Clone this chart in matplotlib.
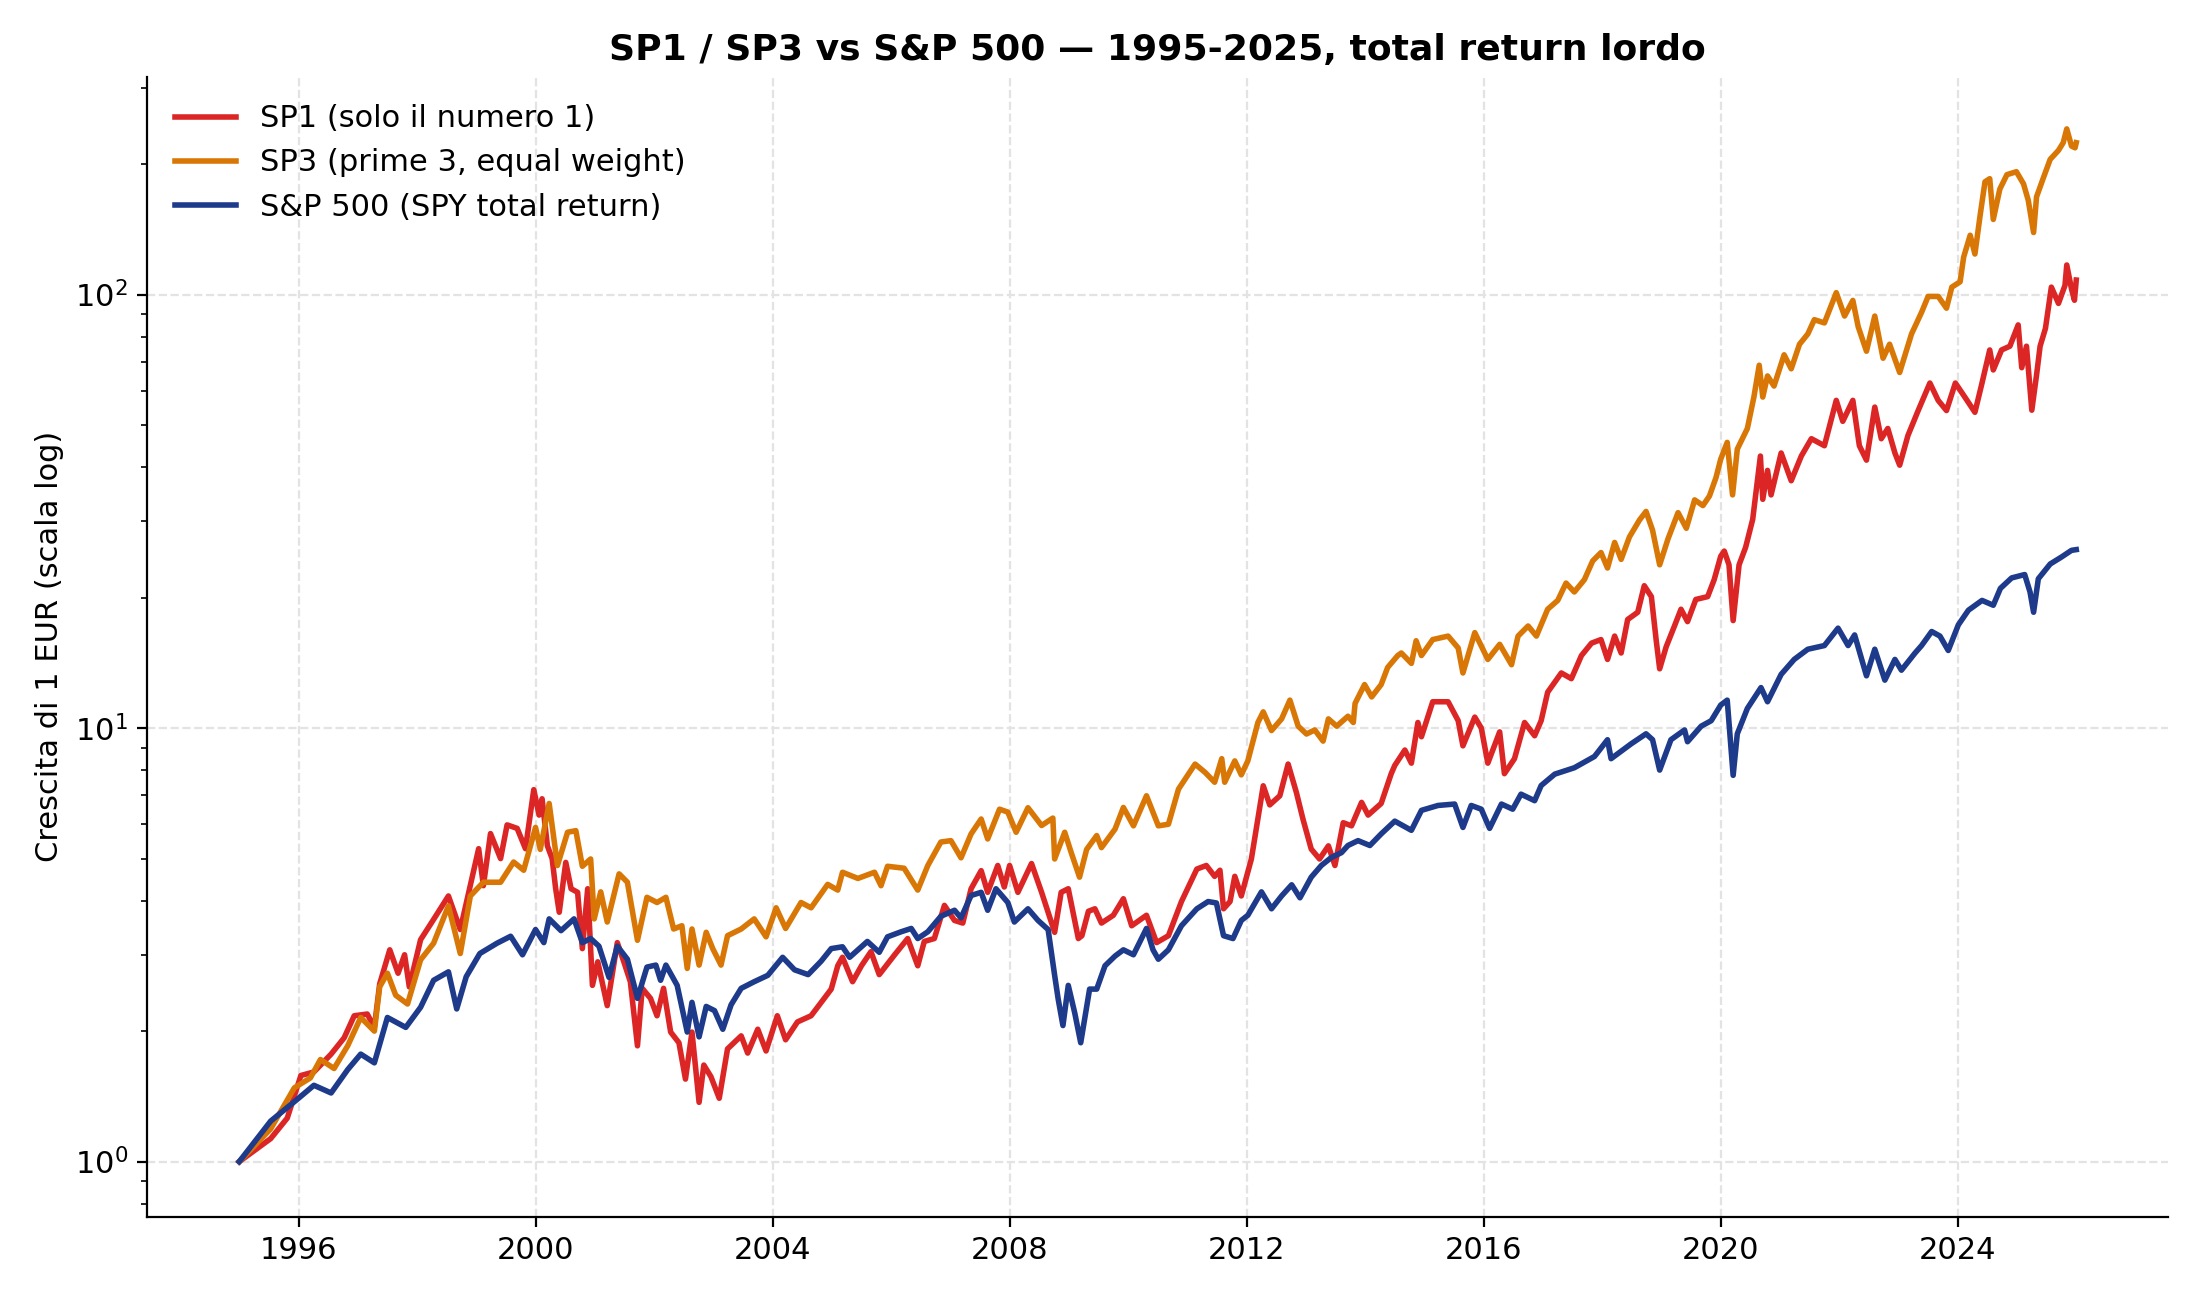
import matplotlib
matplotlib.use("Agg")
import matplotlib.pyplot as plt
from matplotlib.ticker import MultipleLocator, FormatStrFormatter

# ---- data (decimal years, growth of 1 EUR) ----
sp1_years = [1995.00, 1995.53, 1995.81, 1996.04, 1996.26, 1996.55, 1996.77, 1996.94, 1997.16, 1997.28,
             1997.37, 1997.54, 1997.68, 1997.79, 1997.87, 1998.06, 1998.28, 1998.53, 1998.73, 1999.04,
             1999.12, 1999.24, 1999.41, 1999.52, 1999.69, 1999.83, 1999.97, 2000.06, 2000.11, 2000.20,
             2000.28, 2000.34, 2000.40, 2000.51, 2000.60, 2000.71, 2000.79, 2000.88, 2000.96, 2001.05,
             2001.21, 2001.38, 2001.49, 2001.60, 2001.72, 2001.80, 2001.94, 2002.05, 2002.16, 2002.28,
             2002.42, 2002.53, 2002.64, 2002.76, 2002.84, 2002.96, 2003.10, 2003.24, 2003.47, 2003.58,
             2003.75, 2003.89, 2004.08, 2004.22, 2004.42, 2004.65, 2004.82, 2004.99, 2005.10, 2005.18,
             2005.35, 2005.50, 2005.66, 2005.80, 2006.06, 2006.28, 2006.45, 2006.56, 2006.73, 2006.90,
             2007.07, 2007.21, 2007.35, 2007.52, 2007.63, 2007.80, 2007.91, 2008.00, 2008.14, 2008.37,
             2008.54, 2008.76, 2008.87, 2008.99, 2009.16, 2009.22, 2009.33, 2009.44, 2009.55, 2009.75,
             2009.92, 2010.06, 2010.31, 2010.48, 2010.68, 2010.90, 2011.16, 2011.32, 2011.46, 2011.55,
             2011.61, 2011.72, 2011.80, 2011.91, 2012.08, 2012.19, 2012.28, 2012.39, 2012.56, 2012.70,
             2012.84, 2012.95, 2013.09, 2013.23, 2013.38, 2013.49, 2013.63, 2013.77, 2013.94, 2014.05,
             2014.27, 2014.44, 2014.50, 2014.67, 2014.78, 2014.89, 2014.95, 2015.14, 2015.40, 2015.57,
             2015.65, 2015.85, 2015.96, 2016.07, 2016.27, 2016.35, 2016.52, 2016.69, 2016.86, 2016.97,
             2017.08, 2017.31, 2017.48, 2017.65, 2017.82, 2017.98, 2018.09, 2018.21, 2018.32, 2018.43,
             2018.60, 2018.71, 2018.83, 2018.91, 2018.97, 2019.08, 2019.22, 2019.33, 2019.44, 2019.58,
             2019.78, 2019.89, 2020.00, 2020.06, 2020.14, 2020.21, 2020.31, 2020.42, 2020.54, 2020.59,
             2020.67, 2020.71, 2020.79, 2020.85, 2021.02, 2021.19, 2021.36, 2021.53, 2021.75, 2021.95,
             2022.06, 2022.23, 2022.34, 2022.46, 2022.60, 2022.71, 2022.82, 2022.94, 2023.02, 2023.16,
             2023.33, 2023.53, 2023.67, 2023.81, 2023.96, 2024.12, 2024.29, 2024.40, 2024.54, 2024.60,
             2024.74, 2024.88, 2025.02, 2025.08, 2025.16, 2025.25, 2025.33, 2025.39, 2025.48, 2025.58,
             2025.70, 2025.81, 2025.84, 2025.92, 2025.97, 2026.00]
sp1_values = [1.00, 1.13, 1.26, 1.58, 1.61, 1.77, 1.93, 2.17, 2.19, 2.04,
              2.57, 3.08, 2.72, 3.00, 2.53, 3.25, 3.62, 4.10, 3.43, 5.27,
              4.33, 5.71, 5.00, 5.98, 5.87, 5.27, 7.21, 6.30, 6.87, 5.35,
              5.00, 4.26, 3.76, 4.90, 4.26, 4.18, 3.10, 4.26, 2.55, 2.89,
              2.29, 3.20, 2.89, 2.60, 1.85, 2.51, 2.38, 2.17, 2.51, 1.99,
              1.88, 1.55, 1.99, 1.37, 1.67, 1.57, 1.40, 1.82, 1.95, 1.78,
              2.02, 1.80, 2.17, 1.91, 2.10, 2.17, 2.33, 2.50, 2.83, 2.96,
              2.60, 2.83, 3.05, 2.70, 3.00, 3.27, 2.83, 3.22, 3.27, 3.90,
              3.60, 3.55, 4.26, 4.69, 4.18, 4.82, 4.30, 4.82, 4.18, 4.87,
              4.18, 3.38, 4.18, 4.26, 3.27, 3.32, 3.78, 3.83, 3.55, 3.70,
              4.04, 3.50, 3.70, 3.20, 3.32, 3.98, 4.73, 4.82, 4.55, 4.70,
              3.83, 3.98, 4.55, 4.10, 4.99, 6.17, 7.36, 6.65, 6.98, 8.26,
              7.10, 6.17, 5.26, 4.99, 5.35, 4.82, 6.05, 5.95, 6.74, 6.30,
              6.70, 7.85, 8.20, 8.90, 8.30, 10.3, 9.55, 11.5, 11.5, 10.4,
              9.10, 10.6, 10.0, 8.30, 9.80, 7.85, 8.50, 10.3, 9.60, 10.4,
              12.1, 13.4, 13.0, 14.7, 15.7, 16.0, 14.4, 16.3, 14.9, 17.8,
              18.5, 21.3, 20.1, 16.0, 13.7, 15.4, 17.2, 18.8, 17.6, 19.8,
              20.1, 22.0, 24.9, 25.6, 23.8, 17.7, 23.8, 26.1, 30.3, 34.5,
              42.4, 33.7, 39.3, 34.5, 43.1, 37.2, 42.4, 46.5, 44.8, 57.0,
              51.0, 57.0, 44.8, 41.5, 55.0, 46.5, 49.1, 43.1, 40.4, 47.3,
              53.9, 62.5, 57.0, 54.0, 62.5, 58.0, 53.5, 61.7, 74.5, 67.0,
              74.5, 76.0, 85.1, 67.8, 76.0, 54.1, 65.2, 76.0, 83.5, 104.0,
              95.4, 105.0, 117.0, 103.0, 97.0, 108.0]

sp3_years = [1995.00, 1995.53, 1995.93, 1996.20, 1996.37, 1996.60, 1996.83, 1997.05, 1997.28, 1997.37,
             1997.50, 1997.64, 1997.84, 1998.06, 1998.28, 1998.53, 1998.73, 1998.90, 1999.12, 1999.41,
             1999.63, 1999.80, 2000.00, 2000.08, 2000.23, 2000.37, 2000.54, 2000.68, 2000.79, 2000.93,
             2000.99, 2001.10, 2001.21, 2001.41, 2001.55, 2001.72, 2001.88, 2002.05, 2002.20, 2002.33,
             2002.47, 2002.56, 2002.64, 2002.76, 2002.88, 2002.99, 2003.13, 2003.24, 2003.47, 2003.69,
             2003.89, 2004.06, 2004.22, 2004.48, 2004.65, 2004.93, 2005.10, 2005.18, 2005.44, 2005.72,
             2005.83, 2005.94, 2006.22, 2006.45, 2006.62, 2006.84, 2007.01, 2007.18, 2007.35, 2007.52,
             2007.63, 2007.83, 2007.97, 2008.11, 2008.31, 2008.54, 2008.73, 2008.76, 2008.93, 2009.04,
             2009.18, 2009.30, 2009.47, 2009.55, 2009.78, 2009.92, 2010.09, 2010.31, 2010.51, 2010.68,
             2010.85, 2011.13, 2011.30, 2011.46, 2011.58, 2011.63, 2011.80, 2011.91, 2012.02, 2012.19,
             2012.28, 2012.42, 2012.59, 2012.73, 2012.87, 2013.01, 2013.15, 2013.29, 2013.38, 2013.52,
             2013.71, 2013.80, 2013.83, 2013.99, 2014.11, 2014.27, 2014.38, 2014.55, 2014.61, 2014.78,
             2014.86, 2014.95, 2015.14, 2015.40, 2015.57, 2015.65, 2015.85, 2016.07, 2016.27, 2016.47,
             2016.58, 2016.75, 2016.89, 2017.08, 2017.25, 2017.39, 2017.53, 2017.70, 2017.84, 2017.98,
             2018.09, 2018.21, 2018.32, 2018.46, 2018.63, 2018.74, 2018.85, 2018.97, 2019.11, 2019.28,
             2019.42, 2019.56, 2019.70, 2019.81, 2019.92, 2020.00, 2020.11, 2020.20, 2020.28, 2020.45,
             2020.56, 2020.65, 2020.71, 2020.79, 2020.90, 2021.07, 2021.19, 2021.33, 2021.47, 2021.58,
             2021.75, 2021.95, 2022.09, 2022.23, 2022.32, 2022.46, 2022.60, 2022.74, 2022.85, 2023.02,
             2023.22, 2023.39, 2023.50, 2023.67, 2023.81, 2023.90, 2024.04, 2024.10, 2024.21, 2024.29,
             2024.38, 2024.46, 2024.54, 2024.60, 2024.71, 2024.83, 2024.99, 2025.11, 2025.19, 2025.28,
             2025.33, 2025.44, 2025.56, 2025.70, 2025.78, 2025.84, 2025.92, 2025.98, 2026.00]
sp3_values = [1.00, 1.19, 1.48, 1.56, 1.72, 1.64, 1.85, 2.15, 2.00, 2.53,
              2.72, 2.42, 2.31, 2.92, 3.19, 3.89, 3.02, 4.10, 4.41, 4.41,
              4.91, 4.70, 5.90, 5.25, 6.70, 4.82, 5.75, 5.80, 4.80, 4.99,
              3.63, 4.19, 3.57, 4.61, 4.41, 3.24, 4.07, 3.96, 4.07, 3.44,
              3.50, 2.79, 3.44, 2.84, 3.38, 3.10, 2.84, 3.32, 3.44, 3.63,
              3.30, 3.85, 3.45, 3.96, 3.85, 4.36, 4.23, 4.65, 4.50, 4.65,
              4.33, 4.80, 4.75, 4.23, 4.82, 5.46, 5.50, 5.02, 5.70, 6.17,
              5.55, 6.50, 6.40, 5.75, 6.55, 5.96, 6.20, 4.99, 5.75, 5.16,
              4.53, 5.25, 5.65, 5.30, 5.85, 6.56, 5.95, 6.98, 5.95, 6.00,
              7.23, 8.26, 7.90, 7.50, 8.50, 7.50, 8.40, 7.80, 8.40, 10.3,
              10.9, 9.87, 10.5, 11.6, 10.1, 9.69, 9.90, 9.33, 10.5, 10.1,
              10.65, 10.3, 11.4, 12.6, 11.8, 12.6, 13.8, 14.7, 14.9, 14.1,
              15.9, 14.7, 16.0, 16.3, 15.3, 13.4, 16.6, 14.4, 15.6, 14.0,
              16.3, 17.2, 16.3, 18.8, 19.7, 21.6, 20.6, 22.0, 24.3, 25.4,
              23.4, 26.8, 24.5, 27.6, 30.2, 31.6, 28.6, 23.8, 27.3, 31.4,
              28.9, 33.6, 32.6, 34.3, 37.8, 41.7, 45.6, 34.5, 44.0, 49.1,
              58.0, 68.7, 58.0, 64.9, 61.5, 72.6, 67.4, 76.8, 81.1, 87.5,
              86.0, 101.0, 89.2, 96.9, 84.3, 74.0, 89.2, 71.3, 76.8, 66.1,
              81.1, 91.0, 99.0, 99.0, 93.0, 104.0, 107.0, 122.0, 137.0, 124.0,
              153.0, 182.0, 185.0, 149.0, 175.0, 189.0, 192.0, 180.0, 165.0, 139.0,
              168.0, 185.0, 205.0, 215.0, 224.0, 241.0, 220.0, 218.0, 224.0]

spy_years = [1995.00, 1995.53, 1996.00, 1996.26, 1996.55, 1996.83, 1997.05, 1997.28, 1997.50, 1997.81,
             1998.06, 1998.28, 1998.53, 1998.67, 1998.83, 1999.06, 1999.35, 1999.58, 1999.78, 2000.00,
             2000.14, 2000.23, 2000.43, 2000.65, 2000.79, 2000.93, 2001.07, 2001.24, 2001.38, 2001.55,
             2001.72, 2001.88, 2002.03, 2002.11, 2002.20, 2002.39, 2002.56, 2002.64, 2002.76, 2002.88,
             2003.02, 2003.16, 2003.30, 2003.47, 2003.69, 2003.92, 2004.08, 2004.17, 2004.37, 2004.60,
             2004.82, 2004.99, 2005.18, 2005.30, 2005.50, 2005.60, 2005.80, 2005.94, 2006.17, 2006.34,
             2006.45, 2006.62, 2006.84, 2007.07, 2007.18, 2007.35, 2007.52, 2007.63, 2007.77, 2007.97,
             2008.08, 2008.31, 2008.48, 2008.65, 2008.76, 2008.82, 2008.90, 2008.99, 2009.10, 2009.20,
             2009.35, 2009.47, 2009.61, 2009.78, 2009.92, 2010.09, 2010.31, 2010.42, 2010.51, 2010.68,
             2010.90, 2011.16, 2011.35, 2011.49, 2011.61, 2011.77, 2011.91, 2012.02, 2012.25, 2012.42,
             2012.59, 2012.76, 2012.90, 2013.09, 2013.26, 2013.43, 2013.60, 2013.71, 2013.88, 2014.08,
             2014.27, 2014.50, 2014.78, 2014.95, 2015.23, 2015.51, 2015.65, 2015.79, 2015.96, 2016.10,
             2016.30, 2016.49, 2016.63, 2016.86, 2016.97, 2017.20, 2017.53, 2017.87, 2018.09, 2018.15,
             2018.49, 2018.74, 2018.85, 2018.97, 2019.16, 2019.39, 2019.44, 2019.67, 2019.84, 2020.00,
             2020.11, 2020.21, 2020.28, 2020.45, 2020.68, 2020.79, 2021.02, 2021.24, 2021.47, 2021.75,
             2021.98, 2022.15, 2022.26, 2022.46, 2022.60, 2022.77, 2022.94, 2023.05, 2023.28, 2023.39,
             2023.56, 2023.70, 2023.84, 2024.01, 2024.18, 2024.41, 2024.60, 2024.72, 2024.91, 2025.13,
             2025.22, 2025.28, 2025.36, 2025.56, 2025.75, 2025.92, 2026.00]
spy_values = [1.00, 1.24, 1.40, 1.50, 1.44, 1.63, 1.77, 1.69, 2.15, 2.04,
              2.27, 2.62, 2.74, 2.25, 2.67, 3.02, 3.19, 3.31, 3.00, 3.43,
              3.20, 3.63, 3.41, 3.63, 3.20, 3.27, 3.14, 2.66, 3.14, 2.93,
              2.38, 2.81, 2.84, 2.62, 2.84, 2.55, 1.99, 2.33, 1.94, 2.28,
              2.23, 2.02, 2.30, 2.51, 2.60, 2.69, 2.86, 2.96, 2.77, 2.70,
              2.90, 3.10, 3.13, 2.96, 3.13, 3.22, 3.04, 3.30, 3.39, 3.45,
              3.27, 3.39, 3.68, 3.80, 3.65, 4.11, 4.18, 3.80, 4.26, 3.96,
              3.57, 3.83, 3.60, 3.43, 2.69, 2.37, 2.06, 2.55, 2.20, 1.88,
              2.50, 2.50, 2.83, 2.98, 3.08, 3.00, 3.45, 3.08, 2.93, 3.08,
              3.50, 3.83, 3.98, 3.95, 3.32, 3.27, 3.60, 3.70, 4.19, 3.83,
              4.10, 4.35, 4.06, 4.53, 4.82, 5.03, 5.16, 5.36, 5.50, 5.36,
              5.70, 6.10, 5.81, 6.46, 6.63, 6.68, 5.90, 6.63, 6.50, 5.87,
              6.68, 6.50, 7.04, 6.80, 7.37, 7.83, 8.10, 8.60, 9.40, 8.50,
              9.20, 9.70, 9.40, 8.00, 9.40, 9.90, 9.30, 10.1, 10.4, 11.3,
              11.6, 7.78, 9.70, 11.1, 12.4, 11.5, 13.3, 14.4, 15.2, 15.5,
              17.0, 15.5, 16.4, 13.2, 15.2, 12.9, 14.4, 13.6, 14.9, 15.5,
              16.7, 16.3, 15.1, 17.3, 18.7, 19.7, 19.2, 21.0, 22.2, 22.6,
              20.6, 18.5, 22.1, 23.9, 24.8, 25.7, 25.8]

series_labels = ["SP1 (solo il numero 1)", "SP3 (prime 3, equal weight)", "S&P 500 (SPY total return)"]
series_colors = ["#dc2626", "#d97706", "#1e3a8a"]

title_text = "SP1 / SP3 vs S&P 500 \u2014 1995-2025, total return lordo"
ylabel_text = "Crescita di 1 EUR (scala log)"

# ---- plot ----
plt.rcParams['font.family'] = ['DejaVu Sans']
fig, ax = plt.subplots(figsize=(11, 6.5), dpi=200)
fig.subplots_adjust(left=0.067, right=0.9855, bottom=0.064, top=0.941)

for xs, ys, lab, col in zip([sp1_years, sp3_years, spy_years],
                            [sp1_values, sp3_values, spy_values],
                            series_labels, series_colors):
    ax.plot(xs, ys, color=col, lw=2.0, label=lab, solid_joinstyle='round')

ax.set_yscale('log')
ax.set_ylim(0.746, 318)
ax.set_xlim(1993.45, 2027.55)
ax.xaxis.set_major_locator(MultipleLocator(4))
ax.xaxis.set_major_formatter(FormatStrFormatter('%d'))

ax.grid(True, which='major', linestyle='--', color='#e3e3e3', linewidth=0.8)
ax.set_axisbelow(True)
for s in ['top', 'right']:
    ax.spines[s].set_visible(False)

ax.tick_params(axis='both', labelsize=11)
ax.set_ylabel(ylabel_text, fontsize=11)
ax.set_title(title_text, fontsize=13, fontweight='bold')
ax.legend(loc='upper left', frameon=False, fontsize=11)

fig.savefig("out.png", dpi=200)
